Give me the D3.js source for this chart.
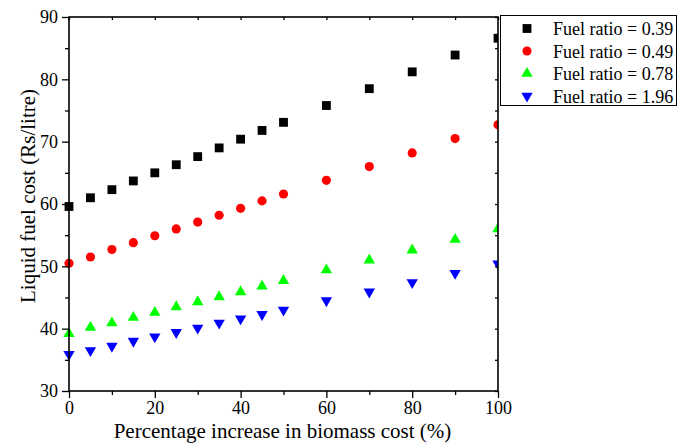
<!DOCTYPE html>
<html>
<head>
<meta charset="utf-8">
<script src="https://cdn.jsdelivr.net/npm/d3@7"></script>
<style>
body { margin: 0; background: #fff; }
text { font-family: "Liberation Serif", "Times New Roman", serif; }
</style>
</head>
<body>
<svg></svg>
<script>
var xVals = [0, 5, 10, 15, 20, 25, 30, 35, 40, 45, 50, 60, 70, 80, 90, 100];
var fr039 = [59.6, 61.0, 62.3, 63.7, 65.0, 66.3, 67.6, 69.0, 70.4, 71.8, 73.1, 75.8, 78.5, 81.2, 83.9, 86.6];
var fr049 = [50.5, 51.5, 52.7, 53.8, 54.9, 56.0, 57.1, 58.2, 59.3, 60.5, 61.6, 63.8, 66.0, 68.2, 70.5, 72.7];
var fr078 = [39.2, 40.2, 40.9, 41.8, 42.6, 43.5, 44.3, 45.1, 45.9, 46.8, 47.7, 49.4, 51.0, 52.6, 54.3, 56.0];
var fr196 = [35.9, 36.5, 37.2, 38.0, 38.7, 39.4, 40.1, 40.9, 41.6, 42.3, 43.0, 44.5, 45.9, 47.4, 48.9, 50.4];
var seriesNames = ["Fuel ratio = 0.39", "Fuel ratio = 0.49", "Fuel ratio = 0.78", "Fuel ratio = 1.96"];
var xTicks = [0, 20, 40, 60, 80, 100];
var yTicks = [30, 40, 50, 60, 70, 80, 90];

var width = 686, height = 443;
// plot box (window.top is read-only, so no "top" here)
var pL = 69, pR = 498, pT = 17, pB = 391;

var svg = d3.select("svg").attr("width", width).attr("height", height);

var x = d3.scaleLinear().domain([0, 100]).range([pL, pR]);
var y = d3.scaleLinear().domain([30, 90]).range([pB, pT]);

var series = [
    {name: seriesNames[0], vals: fr039, color: "#000000", type: d3.symbolSquare, size: 78, rot: 0},
    {name: seriesNames[1], vals: fr049, color: "#ff0000", type: d3.symbolCircle, size: 66, rot: 0},
    {name: seriesNames[2], vals: fr078, color: "#00ff00", type: d3.symbolTriangle, size: 56, rot: 0},
    {name: seriesNames[3], vals: fr196, color: "#0000ff", type: d3.symbolTriangle, size: 56, rot: 180}
];

svg.append("clipPath").attr("id", "clip")
    .append("rect").attr("x", 0).attr("y", 0).attr("width", pR).attr("height", height);

var pts = svg.append("g").attr("clip-path", "url(#clip)");
series.forEach(function(s) {
    pts.selectAll(null)
        .data(s.vals)
        .enter().append("path")
        .attr("d", d3.symbol().type(s.type).size(s.size))
        .attr("fill", s.color)
        .attr("transform", (d, i) => "translate(" + x(xVals[i]) + "," + y(d) + ") rotate(" + s.rot + ")");
});

// axes
svg.append("g").attr("transform", "translate(0," + pB + ")")
    .call(d3.axisBottom(x).tickValues(xTicks).tickSize(7).tickPadding(3));
svg.append("g").attr("transform", "translate(0," + pB + ")")
    .call(d3.axisBottom(x).tickValues(d3.range(10, 100, 20)).tickSize(4).tickFormat(""));
svg.append("g").attr("transform", "translate(" + pL + ",0)")
    .call(d3.axisLeft(y).tickValues(yTicks).tickSize(7).tickPadding(4));
svg.append("g").attr("transform", "translate(" + pL + ",0)")
    .call(d3.axisLeft(y).tickValues(d3.range(35, 90, 10)).tickSize(4).tickFormat(""));
svg.append("g").attr("transform", "translate(0," + pT + ")")
    .call(d3.axisBottom(x).tickValues(d3.range(0, 101, 10)).tickSize(3).tickFormat(""));
svg.append("g").attr("transform", "translate(" + pR + ",0)")
    .call(d3.axisLeft(y).tickValues(d3.range(30, 91, 5)).tickSize(3).tickFormat(""));

svg.selectAll(".domain").remove();
svg.selectAll(".tick line").attr("stroke", "#000").attr("stroke-width", 1.3);
svg.selectAll(".tick text").attr("font-size", 18).attr("font-family", "Liberation Serif").attr("fill", "#000");

svg.append("rect")
    .attr("x", pL).attr("y", pT)
    .attr("width", pR - pL).attr("height", pB - pT)
    .attr("fill", "none").attr("stroke", "#000").attr("stroke-width", 1.6);

// titles
svg.append("text")
    .attr("x", (pL + pR) / 2 - 1).attr("y", 438)
    .attr("text-anchor", "middle").attr("font-size", 21)
    .text("Percentage increase in biomass cost (%)");
svg.append("text")
    .attr("transform", "translate(35,196) rotate(-90)")
    .attr("text-anchor", "middle").attr("font-size", 21)
    .text("Liquid fuel cost (Rs/litre)");

// legend
var lg = svg.append("g");
lg.append("rect").attr("x", 500.5).attr("y", 15.5).attr("width", 176).attr("height", 90)
    .attr("fill", "#fff").attr("stroke", "#000").attr("stroke-width", 1);
series.forEach(function(s, i) {
    var cy = 28.5 + i * 22.5;
    lg.append("path")
        .attr("d", d3.symbol().type(s.type).size(s.size))
        .attr("fill", s.color)
        .attr("transform", "translate(527," + cy + ") rotate(" + s.rot + ")");
    lg.append("text").attr("x", 553).attr("y", cy + 6.5)
        .attr("font-size", 18).text(s.name);
});
</script>
</body>
</html>
